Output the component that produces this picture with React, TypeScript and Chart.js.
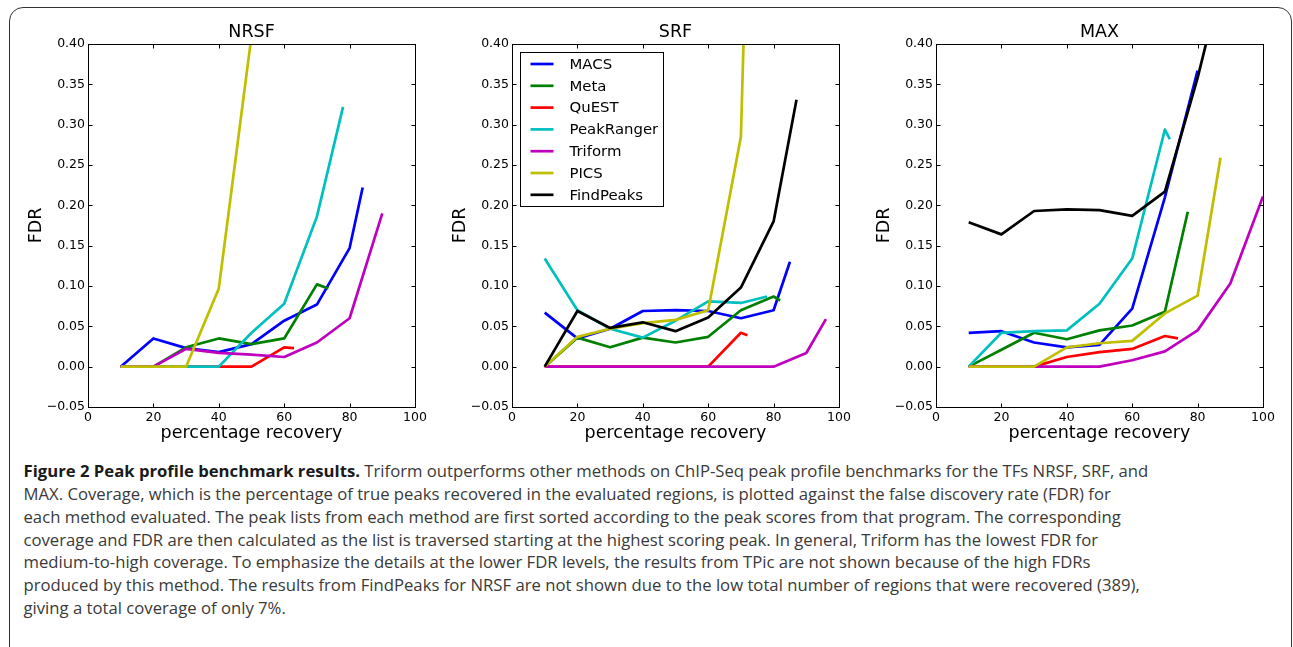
import React, { useEffect, useRef } from "react";
import { Chart, registerables } from "chart.js";

Chart.register(...registerables);

type Pt = [number, number];

const METHODS = ["MACS", "Meta", "QuEST", "PeakRanger", "Triform", "PICS", "FindPeaks"];
const COLORS = ["#0000ff", "#008000", "#ff0000", "#00bfbf", "#bf00bf", "#bfbf00", "#000000"];
const X_TICKS = [0, 20, 40, 60, 80, 100];
const Y_TICKS = [-0.05, 0, 0.05, 0.1, 0.15, 0.2, 0.25, 0.3, 0.35, 0.4];
const X_TITLE = "percentage recovery";
const Y_TITLE = "FDR";
const PANEL_TITLES = ["NRSF", "SRF", "MAX"];

// NRSF
const NRSF_MACS: Pt[] = [[10, 0], [20, 0.035], [30, 0.023], [40, 0.018], [50, 0.028], [60, 0.057], [70, 0.077], [80, 0.147], [84, 0.222]];
const NRSF_META: Pt[] = [[10, 0], [20, 0], [30, 0.024], [40, 0.035], [50, 0.028], [60, 0.035], [70, 0.102], [73.5, 0.097]];
const NRSF_QUEST: Pt[] = [[10, 0], [20, 0], [30, 0], [40, 0], [50, 0], [60, 0.024], [63, 0.023]];
const NRSF_PEAKRANGER: Pt[] = [[10, 0], [20, 0], [30, 0], [40, 0], [50, 0.042], [60, 0.078], [70, 0.186], [78, 0.322]];
const NRSF_TRIFORM: Pt[] = [[10, 0], [20, 0], [30, 0.022], [40, 0.017], [50, 0.015], [60, 0.012], [70, 0.03], [80, 0.06], [90, 0.19]];
const NRSF_PICS: Pt[] = [[10, 0], [20, 0], [30, 0], [40, 0.097], [50, 0.41]];
const NRSF_FINDPEAKS: Pt[] = [];

// SRF
const SRF_MACS: Pt[] = [[10, 0.067], [20, 0.035], [30, 0.047], [40, 0.069], [50, 0.07], [60, 0.069], [70, 0.06], [80, 0.07], [85, 0.13]];
const SRF_META: Pt[] = [[10, 0], [20, 0.036], [30, 0.024], [40, 0.036], [50, 0.03], [60, 0.037], [70, 0.07], [80, 0.087], [82, 0.082]];
const SRF_QUEST: Pt[] = [[10, 0], [20, 0], [30, 0], [40, 0], [50, 0], [60, 0], [70, 0.042], [72, 0.039]];
const SRF_PEAKRANGER: Pt[] = [[10, 0.134], [20, 0.07], [30, 0.047], [40, 0.036], [50, 0.057], [60, 0.081], [70, 0.079], [78, 0.087]];
const SRF_TRIFORM: Pt[] = [[10, 0], [20, 0], [30, 0], [40, 0], [50, 0], [60, 0], [70, 0], [80, 0], [90, 0.017], [96, 0.059]];
const SRF_PICS: Pt[] = [[10, 0], [20, 0.037], [30, 0.047], [40, 0.054], [50, 0.058], [60, 0.07], [70, 0.285], [71, 0.43]];
const SRF_FINDPEAKS: Pt[] = [[10, 0], [20, 0.069], [30, 0.048], [40, 0.055], [50, 0.044], [60, 0.061], [70, 0.098], [80, 0.18], [87, 0.331]];

// MAX
const MAX_MACS: Pt[] = [[10, 0.042], [20, 0.044], [30, 0.03], [40, 0.024], [50, 0.027], [60, 0.072], [70, 0.21], [80, 0.367]];
const MAX_META: Pt[] = [[10, 0], [20, 0.021], [30, 0.042], [40, 0.034], [50, 0.045], [60, 0.051], [70, 0.068], [77, 0.192]];
const MAX_QUEST: Pt[] = [[10, 0], [20, 0], [30, 0], [40, 0.012], [50, 0.018], [60, 0.022], [70, 0.038], [74, 0.035]];
const MAX_PEAKRANGER: Pt[] = [[10, 0], [20, 0.042], [30, 0.044], [40, 0.045], [50, 0.078], [60, 0.134], [70, 0.294], [71.5, 0.282]];
const MAX_TRIFORM: Pt[] = [[10, 0], [20, 0], [30, 0], [40, 0], [50, 0], [60, 0.008], [70, 0.019], [80, 0.045], [90, 0.103], [100, 0.211]];
const MAX_PICS: Pt[] = [[10, 0], [20, 0], [30, 0], [40, 0.024], [50, 0.029], [60, 0.032], [70, 0.066], [80, 0.088], [87, 0.259]];
const MAX_FINDPEAKS: Pt[] = [[10, 0.179], [20, 0.164], [30, 0.193], [40, 0.195], [50, 0.194], [60, 0.187], [70, 0.217], [80, 0.358], [85, 0.44]];

const PANELS: Pt[][][] = [
  [NRSF_MACS, NRSF_META, NRSF_QUEST, NRSF_PEAKRANGER, NRSF_TRIFORM, NRSF_PICS, NRSF_FINDPEAKS],
  [SRF_MACS, SRF_META, SRF_QUEST, SRF_PEAKRANGER, SRF_TRIFORM, SRF_PICS, SRF_FINDPEAKS],
  [MAX_MACS, MAX_META, MAX_QUEST, MAX_PEAKRANGER, MAX_TRIFORM, MAX_PICS, MAX_FINDPEAKS],
];
const LEGEND_PANEL = 1;

const CAPTION_BOLD = "Figure 2 Peak profile benchmark results.";
const CAPTION_LINES = [
  " Triform outperforms other methods on ChIP-Seq peak profile benchmarks for the TFs NRSF, SRF, and",
  "MAX. Coverage, which is the percentage of true peaks recovered in the evaluated regions, is plotted against the false discovery rate (FDR) for",
  "each method evaluated. The peak lists from each method are first sorted according to the peak scores from that program. The corresponding",
  "coverage and FDR are then calculated as the list is traversed starting at the highest scoring peak. In general, Triform has the lowest FDR for",
  "medium-to-high coverage. To emphasize the details at the lower FDR levels, the results from TPic are not shown because of the high FDRs",
  "produced by this method. The results from FindPeaks for NRSF are not shown due to the low total number of regions that were recovered (389),",
  "giving a total coverage of only 7%.",
];

const FONT = "'DejaVu Sans', sans-serif";
const CW = 440;
const CH = 450;
const PLOT_W = 327;

function fmtY(v: number) {
  const s = Math.abs(v).toFixed(2);
  return v < -1e-9 ? "\u2212" + s : s;
}

function Panel({ idx }: { idx: number }) {
  const ref = useRef<HTMLCanvasElement | null>(null);
  useEffect(() => {
    if (!ref.current) return;
    const title = PANEL_TITLES[idx];
    const showLegend = idx === LEGEND_PANEL;
    const series = PANELS[idx];
    const datasets = METHODS.map((m, i) => ({
      label: m,
      data: series[i].map(([x, y]) => ({ x, y })),
      borderColor: COLORS[i],
      backgroundColor: COLORS[i],
      borderWidth: 2.7,
      pointRadius: 0,
      pointHoverRadius: 0,
      fill: false,
      tension: 0,
      order: 20 - i,
      clip: 0,
      borderJoinStyle: "round" as const,
      borderCapStyle: "butt" as const,
    }));

    const deco = {
      id: "deco" + idx,
      afterDatasetsDraw(chart: any) {
        const { ctx, chartArea } = chart;
        const { left, right, top, bottom } = chartArea;
        const xs = chart.scales.x;
        const ys = chart.scales.y;
        ctx.save();
        ctx.strokeStyle = "#000";
        ctx.lineWidth = 1;
        const L = Math.round(left) + 0.5;
        const R = Math.round(right) + 0.5;
        const T = Math.round(top) + 0.5;
        const B = Math.round(bottom) + 0.5;
        ctx.strokeRect(L, T, R - L, B - T);
        ctx.beginPath();
        const tl = 4;
        X_TICKS.forEach((v) => {
          const px = Math.round(xs.getPixelForValue(v)) + 0.5;
          ctx.moveTo(px, B);
          ctx.lineTo(px, B - tl);
          ctx.moveTo(px, T);
          ctx.lineTo(px, T + tl);
        });
        Y_TICKS.forEach((v) => {
          const py = Math.round(ys.getPixelForValue(v)) + 0.5;
          ctx.moveTo(L, py);
          ctx.lineTo(L + tl, py);
          ctx.moveTo(R, py);
          ctx.lineTo(R - tl, py);
        });
        ctx.stroke();

        // title
        ctx.fillStyle = "#000";
        ctx.font = `17.5px ${FONT}`;
        ctx.textAlign = "center";
        ctx.textBaseline = "middle";
        ctx.fillText(title, (left + right) / 2, 32);

        if (showLegend) {
          const bx = Math.round(left + 8) + 0.5;
          const by = Math.round(top + 7.7) + 0.5;
          const bw = 143;
          const bh = 154;
          ctx.fillStyle = "#fff";
          ctx.fillRect(bx, by, bw, bh);
          ctx.strokeStyle = "#000";
          ctx.lineWidth = 1;
          ctx.strokeRect(bx, by, bw, bh);
          ctx.font = `14.9px ${FONT}`;
          ctx.textAlign = "left";
          ctx.textBaseline = "middle";
          chart.data.datasets.forEach((ds: any, i: number) => {
            const cy = by + 11.5 + 21.8 * i;
            ctx.strokeStyle = ds.borderColor;
            ctx.lineWidth = 2.7;
            ctx.beginPath();
            ctx.moveTo(bx + 10, cy);
            ctx.lineTo(bx + 33, cy);
            ctx.stroke();
            ctx.fillStyle = "#000";
            ctx.fillText(ds.label, bx + 49, cy + 1);
          });
        }
        ctx.restore();
      },
    };

    const chart = new Chart(ref.current, {
      type: "line",
      data: { datasets },
      options: {
        animation: false,
        responsive: false,
        devicePixelRatio: 1,
        events: [],
        layout: { padding: { left: 0, right: CW - 88 - PLOT_W, top: 44, bottom: 0 } },
        plugins: {
          legend: { display: false },
          tooltip: { enabled: false },
          title: { display: false },
        },
        scales: {
          x: {
            type: "linear",
            min: 0,
            max: 100,
            afterBuildTicks: (s: any) => {
              s.ticks = X_TICKS.map((v) => ({ value: v }));
            },
            afterFit: (s: any) => {
              s.height = CH - 407;
            },
            ticks: {
              font: { family: FONT, size: 12.5 },
              color: "#000",
              padding: 3,
              maxRotation: 0,
              autoSkip: false,
              callback: (v: any) => String(v),
            },
            grid: { display: false, drawTicks: false },
            border: { display: false },
            title: {
              display: true,
              text: X_TITLE,
              color: "#000",
              font: { family: FONT, size: 17.5, lineHeight: 1.2 },
              padding: { top: 0, bottom: 6.5 },
            },
          },
          y: {
            type: "linear",
            min: -0.05,
            max: 0.4,
            afterBuildTicks: (s: any) => {
              s.ticks = Y_TICKS.map((v) => ({ value: v }));
            },
            afterFit: (s: any) => {
              s.width = 88;
            },
            ticks: {
              font: { family: FONT, size: 12.5 },
              color: "#000",
              padding: 3,
              autoSkip: false,
              callback: (v: any) => fmtY(Number(v)),
            },
            grid: { display: false, drawTicks: false },
            border: { display: false },
            title: {
              display: true,
              text: Y_TITLE,
              color: "#000",
              font: { family: FONT, size: 17.5, lineHeight: 1.2 },
              padding: { top: 26, bottom: 0 },
            },
          },
        },
      },
      plugins: [deco],
    } as any);
    return () => chart.destroy();
  }, [idx]);
  return (
    <canvas
      ref={ref}
      width={CW}
      height={CH}
      style={{ position: "absolute", left: idx * 424.2, top: 0, width: CW, height: CH }}
    />
  );
}

export default function App() {
  return (
    <div
      style={{
        position: "fixed",
        left: 0,
        top: 0,
        width: 1293,
        height: 647,
        overflow: "hidden",
        background: "#fff",
      }}
    >
      <div
        style={{
          position: "absolute",
          left: 9,
          top: 7,
          width: 1283,
          height: 660,
          border: "1.5px solid #333",
          borderRadius: 14,
          boxSizing: "border-box",
        }}
      />
      <Panel idx={0} />
      <Panel idx={1} />
      <Panel idx={2} />
      <div
        style={{
          position: "absolute",
          left: 23.5,
          top: 460.3,
          fontFamily: "'Open Sans', sans-serif",
          fontSize: 16.7,
          lineHeight: "22.8px",
          color: "#3a3a3a",
          whiteSpace: "nowrap",
        }}
      >
        {CAPTION_LINES.map((ln, i) => (
          <div key={i}>
            {i === 0 ? <b style={{ color: "#1a1a1a", fontWeight: 700 }}>{CAPTION_BOLD}</b> : null}
            {ln}
          </div>
        ))}
      </div>
    </div>
  );
}
